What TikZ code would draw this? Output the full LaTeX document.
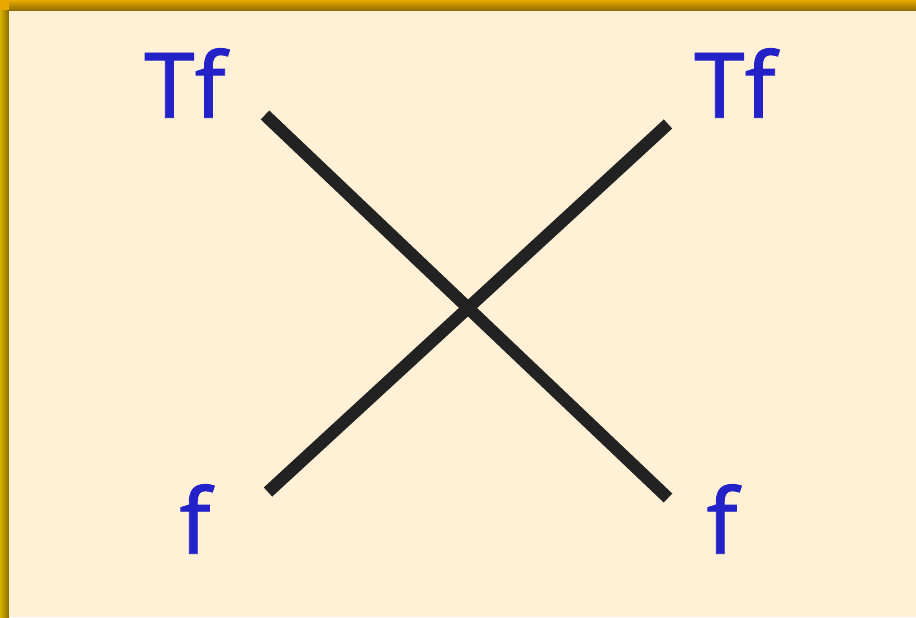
\documentclass[tikz,border=0pt]{standalone}
\usepackage{fontspec}
\newfontfamily\lblfont{Noto Sans}[FakeBold=0.9]
\usepackage{xcolor}
\usepackage{tikz}

\definecolor{cream}{HTML}{FFF0D6}
\definecolor{gold}{HTML}{E9A900}
\definecolor{goldleft}{HTML}{D8B000}
\definecolor{golddark}{HTML}{8A6A00}
\definecolor{labelblue}{HTML}{2222C8}
\definecolor{stroke}{HTML}{222222}

\tikzset{
    lbl/.style={font=\lblfont\fontsize{68}{68}\selectfont, text=labelblue, inner sep=0pt},
    wire/.style={line width=9.3pt, draw=stroke}
}

\begin{document}
\begin{tikzpicture}[x=0.75pt, y=-0.75pt]
    \useasboundingbox (0,0) rectangle (916,617);

    % --- frame ---
    \fill[gold] (0,0) rectangle (916,617);
    \shade[top color=gold, bottom color=golddark] (9,0) rectangle (916,11);
    \shade[left color=goldleft, right color=golddark] (0,11) rectangle (9,617);
    \fill[cream] (9,11) rectangle (916,617);

    % --- labels ---
    \node[lbl] (tfl) at (185,83) {Tf};
    \node[lbl] (tfr) at (735,83) {Tf};
    \node[lbl] (fl) at (195,519) {f};
    \node[lbl] (fr) at (722,519) {f};

    % --- crossing lines ---
    \coordinate (a) at (265,115);
    \coordinate (b) at (668,498);
    \coordinate (c) at (268,492);
    \coordinate (d) at (668,124);
    \draw[wire] (a) -- (b);
    \draw[wire] (c) -- (d);
\end{tikzpicture}
\end{document}
